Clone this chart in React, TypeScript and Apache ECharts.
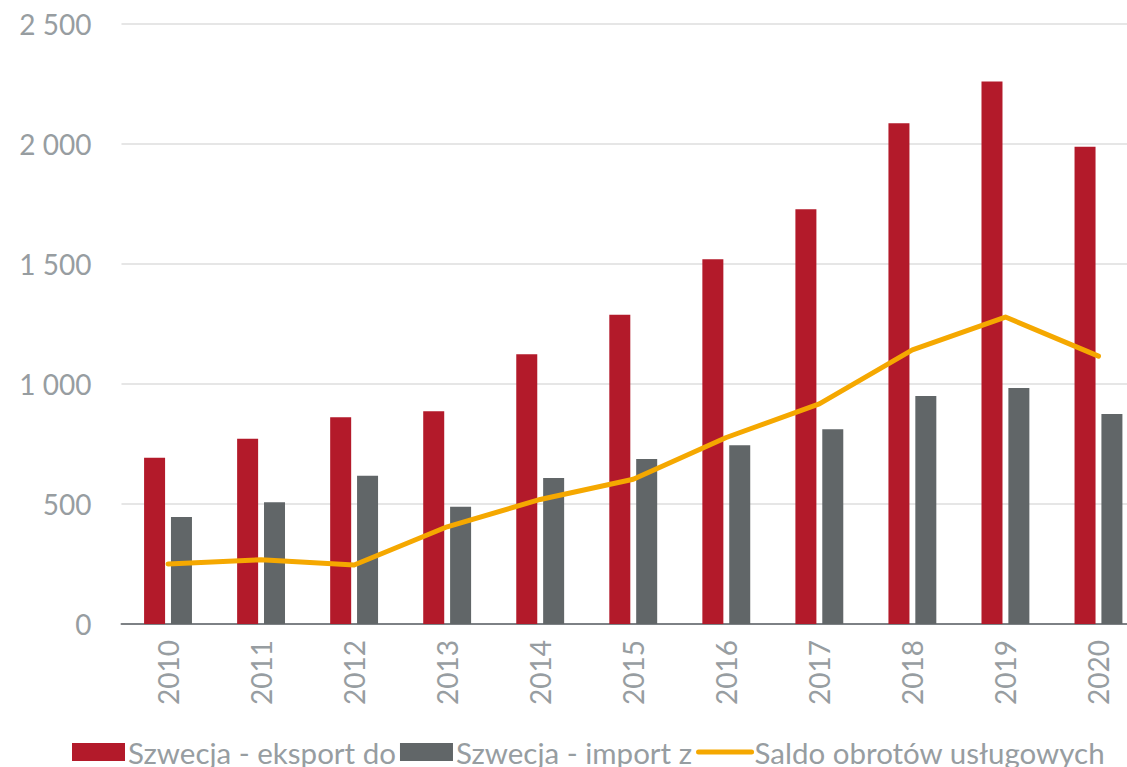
import React, { useEffect, useRef } from "react";
import * as echarts from "echarts";

const years = ["2010", "2011", "2012", "2013", "2014", "2015", "2016", "2017", "2018", "2019", "2020"];
const exportValues = [693, 772, 861, 886, 1124, 1289, 1520, 1728, 2086, 2260, 1989];
const importValues = [446, 507, 618, 489, 608, 688, 745, 811, 950, 983, 875];
const balanceValues = [250, 268, 246, 405, 519, 603, 777, 917, 1142, 1279, 1116];
const seriesNames = ["Szwecja - eksport do", "Szwecja - import z", "Saldo obrotów usługowych"];

const FONT = "Lato";
const TEXT_COLOR = "#979da1";

function fmt(v: number): string {
  const s = String(Math.round(v));
  return s.replace(/\B(?=(\d{3})+(?!\d))/g, " ");
}

export default function App() {
  const ref = useRef<HTMLDivElement>(null);
  useEffect(() => {
    if (!ref.current) return;
    const chart = echarts.init(ref.current, undefined, { renderer: "svg" });
    chart.setOption({
      animation: false,
      backgroundColor: "#ffffff",
      textStyle: { fontFamily: FONT },
      grid: { left: 121.5, right: 0, top: 24, bottom: 143, containLabel: false },
      legend: {
        left: 72,
        top: 737,
        itemWidth: 53,
        itemHeight: 18,
        itemGap: 4,
        padding: 0,
        data: [
          { name: seriesNames[0], icon: "rect" },
          { name: seriesNames[1], icon: "rect" },
          {
            name: seriesNames[2],
            itemStyle: { color: "rgba(0,0,0,0)", borderWidth: 0, opacity: 0 },
            lineStyle: { width: 5, color: "#f5a800", cap: "round" },
          },
        ],
        textStyle: { fontFamily: FONT, fontSize: 29.5, color: TEXT_COLOR, padding: [0, 0, 0, -2] },
      },
      xAxis: {
        type: "category",
        data: years,
        axisLine: { lineStyle: { color: "#7d8185", width: 2 } },
        axisTick: { show: false },
        axisLabel: {
          rotate: 90,
          margin: 16,
          fontFamily: FONT,
          fontSize: 28,
          color: TEXT_COLOR,
        },
      },
      yAxis: {
        type: "value",
        min: 0,
        max: 2500,
        interval: 500,
        axisLine: { show: false },
        axisTick: { show: false },
        splitLine: { lineStyle: { color: "#e6e6e6", width: 2 } },
        axisLabel: {
          margin: 30,
          fontFamily: FONT,
          fontSize: 28,
          color: TEXT_COLOR,
          formatter: (v: number) => fmt(v),
        },
      },
      series: [
        {
          name: seriesNames[0],
          type: "bar",
          data: exportValues,
          barWidth: 21,
          barGap: "28%",
          itemStyle: { color: "#b31a2a" },
        },
        {
          name: seriesNames[1],
          type: "bar",
          data: importValues,
          barWidth: 21,
          barGap: "28%",
          itemStyle: { color: "#616668" },
        },
        {
          name: seriesNames[2],
          type: "line",
          data: balanceValues,
          symbol: "none",
          showSymbol: false,
          lineStyle: { color: "#f5a800", width: 5, cap: "round", join: "round" },
          itemStyle: { color: "#f5a800" },
          z: 5,
        },
      ],
    });
    return () => chart.dispose();
  }, []);
  return (
    <div style={{ position: "absolute", left: 0, top: 0, width: 1127, height: 767, overflow: "hidden" }}>
      <div ref={ref} style={{ width: 1144.5, height: 767 }} />
    </div>
  );
}
